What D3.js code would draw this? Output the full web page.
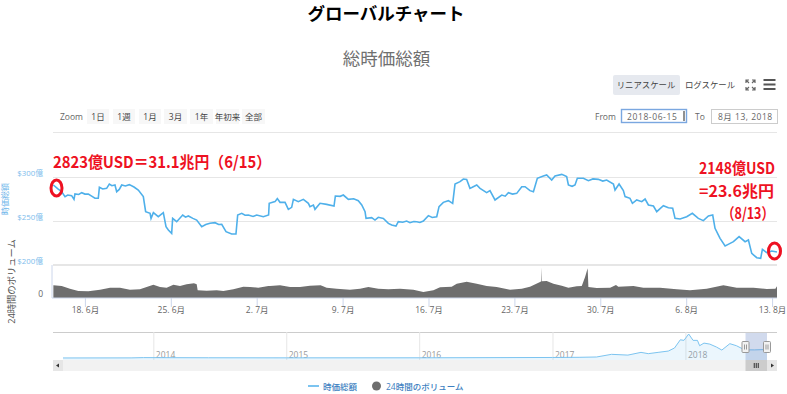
<!DOCTYPE html>
<html>
<head>
<meta charset="utf-8">
<script src="https://cdn.jsdelivr.net/npm/d3@7"></script>
<style>
    body { margin: 0; background: #fff; overflow: hidden; }
    text { font-family: "Open Sans", "Noto Sans CJK JP", sans-serif; }
    .axis path { display: none; }
    .axis text { font-family: "Open Sans", "Noto Sans CJK JP", sans-serif; }
</style>
</head>
<body>
<div id="chart"></div>
<script>
// days since 15 June 2018, market cap in 億 USD
const capDays = [
    0.43,0.8,1.11,1.38,1.6,1.92,2.11,2.19,2.5,2.74,
    3.0,3.28,3.55,3.82,4.09,4.18,4.45,4.77,4.99,5.2,
    5.45,5.59,5.8,6.0,6.3,6.62,7.0,7.35,7.76,7.95,
    8.31,8.39,8.58,8.98,9.39,9.61,9.8,10.07,10.15,10.48,
    10.97,11.2,11.43,11.8,12.11,12.52,12.85,13.19,13.6,13.9,
    14.15,14.5,14.96,15.31,15.45,15.78,16.05,16.32,16.7,17.0,
    17.54,17.97,18.02,18.49,18.68,18.9,19.31,19.58,19.85,19.99,
    20.39,20.8,21.21,21.34,21.62,21.75,22.16,22.7,23.3,23.41,
    23.8,24.06,24.47,24.9,25.28,25.56,25.83,25.91,26.37,26.64,
    26.91,27.32,27.73,28.0,28.35,28.54,28.9,29.22,29.49,29.8,
    30.04,30.3,30.58,30.99,31.3,31.67,31.86,32.21,32.62,32.97,
    33.16,33.57,33.84,34.11,34.38,34.65,34.93,35.2,35.74,36.01,
    36.42,36.97,37.25,37.51,37.85,38.19,38.6,38.87,39.27,39.55,
    39.87,40.36,40.63,41.04,41.31,41.86,42.26,42.4,42.7,42.94,
    43.13,43.62,44.03,44.4,44.84,45.2,45.52,46.07,46.2,46.53,
    46.88,47.02,47.42,47.62,47.97,48.38,48.65,48.92,49.33,49.6,
    50.14,50.55,50.9,51.09,51.5,52.04,52.5,52.99,53.4,53.81,
    54.16,54.35,54.76,55.17,55.5,55.85,56.31,56.8,57.07,57.34,
    57.75,58.07,58.21,58.56,58.97,59.4
];
const capValues = [
    290.9,286.5,283.3,277.7,279.5,278.8,274.6,280.7,280.2,282.2,
    280.6,280.7,278.2,275.8,275.8,288.3,286.4,287.1,292.0,290.1,
    290.9,283.3,285.9,290.9,289.8,291.3,288.6,285.2,277.7,260.6,
    258.7,253.0,259.5,254.9,259.5,243.6,239.8,236.0,253.0,249.2,
    256.8,254.4,255.7,253.0,251.1,243.6,245.9,247.4,248.1,246.0,
    246.2,237.9,235.2,235.2,256.8,258.7,256.5,256.8,255.2,256.8,
    254.9,256.8,270.1,272.0,275.4,271.2,271.2,263.2,265.5,274.6,
    272.0,274.6,270.1,266.3,268.2,263.2,270.1,268.9,267.0,278.4,
    278.0,279.5,274.6,275.2,273.1,268.2,260.6,253.0,253.8,251.1,
    254.2,253.0,247.3,245.4,244.3,249.2,248.6,250.0,248.1,249.5,
    249.2,248.4,250.0,256.1,254.0,254.9,266.3,271.2,273.1,270.1,
    292.0,294.7,297.7,297.3,287.1,289.0,290.9,287.1,282.2,284.5,
    273.9,279.5,278.2,282.2,280.6,281.4,289.0,289.0,284.5,283.3,
    298.5,301.1,302.3,296.6,301.1,303.0,300.4,290.9,289.4,290.9,
    298.5,298.5,295.8,297.8,297.3,295.4,296.6,292.0,285.2,292.0,
    284.5,277.7,275.8,270.1,273.9,272.0,275.0,268.2,267.0,260.6,
    267.4,265.1,264.4,253.0,252.3,254.9,258.7,253.0,250.4,255.7,
    256.8,241.7,230.3,221.6,224.0,226.5,232.2,226.5,228.4,213.2,
    208.3,207.6,217.8,214.0,215.9,214.8
];

// 24h volume in 億 USD
const volDays = [0.43,1.11,1.78,2.46,3.28,4.23,5.05,5.86,6.67,7.49,8.03,8.58,9.12,9.66,10.21,10.75,11.29,11.89,12.11,12.19,12.92,13.74,14.28,15.1,15.91,16.46,17.13,17.95,18.08,18.9,19.72,20.53,21.34,22.21,22.7,23.52,24.6,25.42,26.1,26.91,27.73,28.68,29.77,30.58,31.4,31.94,32.89,33.3,34.11,34.93,35.74,36.56,37.64,38.6,39.27,40.09,40.2,40.23,40.25,40.63,41.18,41.86,42.4,43.08,43.49,43.76,43.97,44.03,44.71,45.8,46.28,46.47,47.7,48.51,49.87,51.23,52.31,53.67,55.03,56.12,57.48,58.56,59.27,59.4];
const volValues = [154,145,113,85,81,101,125,125,101,105,133,162,133,125,162,145,166,178,166,93,89,93,85,105,137,133,125,145,145,154,133,133,149,154,125,113,101,113,133,113,105,113,101,73,93,129,137,174,198,174,145,133,101,113,137,194,202,372,202,206,174,149,125,141,145,255,360,133,121,125,158,137,145,125,125,105,93,113,154,125,125,109,113,141];

// navigator, whole history
const navDates = ["2013-04-28","2013-11-01","2013-12-05","2014-06-01","2015-01-01","2016-01-01","2017-01-01","2017-03-15","2017-05-02","2017-06-12","2017-07-27","2017-09-01","2017-09-21","2017-10-18","2017-11-15","2017-12-02","2017-12-18","2017-12-28","2018-01-10","2018-01-22","2018-02-03","2018-02-09","2018-02-21","2018-03-09","2018-03-27","2018-04-11","2018-05-03","2018-05-21","2018-06-08","2018-06-15","2018-07-09","2018-08-02","2018-08-13"];
const navValues = [15,40,130,80,50,70,180,240,350,1265,1000,1950,1500,1950,2400,3450,6300,6100,8300,6100,6100,4250,5150,4800,3800,2750,4950,4250,3100,2823,2800,2900,2148];
const navYears = ["2014","2015","2016","2017","2018"];

const capTicks = [200, 250, 300];
const capTickLabels = ["$200億", "$250億", "$300億"];
const dayTicks = [3, 10, 17, 24, 31, 38, 45, 52, 59];
const dayTickLabels = ["18. 6月", "25. 6月", "2. 7月", "9. 7月", "16. 7月", "23. 7月", "30. 7月", "6. 8月", "13. 8月"];
const rangeButtons = ["1日", "1週", "1月", "3月", "1年", "年初来", "全部"];
const rangeButtonX = [87, 113, 139, 164, 190, 216, 242];
const rangeButtonW = [22, 22, 22, 23, 23, 23, 23];

const svg = d3.select('#chart').append('svg')
    .attr('width', 787)
    .attr('height', 394);

const gray = '#666666';
const blue = '#4fb0ea';
const red = '#ee1122';

// titles
svg.append('text').attr('x', 386).attr('y', 20).attr('text-anchor', 'middle')
    .attr('font-size', 17.5).attr('font-weight', 700).attr('fill', '#000')
    .style('font-family', '"Noto Sans CJK JP"').text('グローバルチャート');
svg.append('text').attr('x', 386.5).attr('y', 65).attr('text-anchor', 'middle')
    .attr('font-size', 17.5).attr('fill', '#707070')
    .style('font-family', '"Noto Sans CJK JP"').text('総時価総額');

// scale buttons
svg.append('rect').attr('x', 613).attr('y', 75).attr('width', 67).attr('height', 20).attr('rx', 2).attr('fill', '#e6e9ef');
svg.append('text').attr('x', 646).attr('y', 88).attr('text-anchor', 'middle').attr('font-size', 8.4).attr('fill', '#444').text('リニアスケール');
svg.append('text').attr('x', 710).attr('y', 88).attr('text-anchor', 'middle').attr('font-size', 8.4).attr('fill', '#444').text('ログスケール');

// fullscreen icon, drawn as four corners
[[746, 80, 1, 1], [755, 80, -1, 1], [746, 90, 1, -1], [755, 90, -1, -1]].forEach(c => {
    svg.append('path')
        .attr('d', `M${c[0]},${c[1] + 3 * c[3]}V${c[1]}H${c[0] + 3 * c[2]}M${c[0]},${c[1]}l${3 * c[2]},${3 * c[3]}`)
        .attr('fill', 'none').attr('stroke', '#666').attr('stroke-width', 1.2);
});
// menu icon
[80, 84.5, 89].forEach(y => {
    svg.append('rect').attr('x', 763.5).attr('y', y - 1).attr('width', 12).attr('height', 2).attr('fill', '#555');
});

// range selector
svg.append('text').attr('x', 60).attr('y', 119.5).attr('font-size', 8.5).attr('fill', gray).text('Zoom');
rangeButtons.forEach((label, i) => {
    svg.append('rect').attr('x', rangeButtonX[i]).attr('y', 109).attr('width', rangeButtonW[i]).attr('height', 15).attr('fill', '#f7f7f7');
    svg.append('text').attr('x', rangeButtonX[i] + rangeButtonW[i] / 2).attr('y', 119.5).attr('text-anchor', 'middle')
        .attr('font-size', 8.5).attr('fill', '#444').text(label);
});

// date inputs
svg.append('text').attr('x', 595).attr('y', 119.5).attr('font-size', 8.5).attr('fill', gray).text('From');
svg.append('rect').attr('x', 621.5).attr('y', 109.5).attr('width', 65).attr('height', 13).attr('fill', '#fff').attr('stroke', '#7aa7e0').attr('stroke-width', 1.4);
svg.append('text').attr('x', 627).attr('y', 119.5).attr('font-size', 8.5).attr('letter-spacing', 0.6).attr('fill', gray).text('2018-06-15');
svg.append('line').attr('x1', 684).attr('x2', 684).attr('y1', 111).attr('y2', 121).attr('stroke', '#222');
svg.append('text').attr('x', 695).attr('y', 119.5).attr('font-size', 8.5).attr('fill', gray).text('To');
svg.append('rect').attr('x', 711.5).attr('y', 109.5).attr('width', 66).attr('height', 14).attr('fill', '#fff').attr('stroke', '#ccc');
svg.append('text').attr('x', 718).attr('y', 119.5).attr('font-size', 8.5).attr('letter-spacing', 0.5).attr('fill', gray).text('8月 13, 2018');
svg.append('line').attr('x1', 53).attr('x2', 777).attr('y1', 132.5).attr('y2', 132.5).attr('stroke', '#e6e6e6');

// main panes
const xScale = d3.scaleLinear().domain([0.4, 59.4]).range([53, 777]);
const yScale = d3.scaleLinear().domain([200, 300]).range([265, 177]);
const volScale = d3.scaleLinear().domain([0, 400]).range([298, 265]);

const capGrid = d3.axisLeft(yScale).tickValues(capTicks.slice(1)).tickSize(-724).tickFormat('');
svg.append('g').attr('class', 'axis').attr('transform', 'translate(53,0)').call(capGrid)
    .selectAll('line').attr('stroke', '#e6e6e6');

const capAxis = d3.axisLeft(yScale).tickValues(capTicks).tickSize(0).tickPadding(10)
    .tickFormat((d, i) => capTickLabels[i]);
const capAxisG = svg.append('g').attr('class', 'axis').attr('transform', 'translate(53,-4)').call(capAxis);
capAxisG.selectAll('text').attr('font-size', 7.8).attr('fill', '#7cbcec');

svg.append('text').attr('transform', 'translate(8,199) rotate(-90)').attr('text-anchor', 'middle')
    .attr('font-size', 8).attr('fill', '#6fb6ea').text('時価総額');
svg.append('text').attr('transform', 'translate(15,281.5) rotate(-90)').attr('text-anchor', 'middle')
    .attr('font-size', 9.3).attr('fill', '#555').text('24時間のボリューム');

// volume
const volArea = d3.area()
    .x((d, i) => xScale(volDays[i]))
    .y0(volScale(0))
    .y1(d => volScale(d));
svg.append('path').datum(volValues).attr('d', volArea).attr('fill', '#6e6e6e');

svg.append('rect').attr('x', 53).attr('y', 264).attr('width', 724).attr('height', 2).attr('fill', '#e6e6e6');
svg.append('line').attr('x1', 52).attr('x2', 52).attr('y1', 265).attr('y2', 298).attr('stroke', '#ccd6eb');
svg.append('line').attr('x1', 52).attr('x2', 777).attr('y1', 298).attr('y2', 298).attr('stroke', '#ccd6eb');

const volAxis = d3.axisLeft(volScale).tickValues([0]).tickSize(0).tickPadding(10);
const volAxisG = svg.append('g').attr('class', 'axis').attr('transform', 'translate(53,-4)').call(volAxis);
volAxisG.selectAll('text').attr('font-size', 8.5).attr('fill', gray);

// market cap line
const capLine = d3.line()
    .x((d, i) => xScale(capDays[i]))
    .y(d => yScale(d));
svg.append('path').datum(capValues).attr('d', capLine)
    .attr('fill', 'none').attr('stroke', blue).attr('stroke-width', 1.6);

const xAxis = d3.axisBottom(xScale).tickValues(dayTicks).tickSize(9).tickPadding(0)
    .tickFormat((d, i) => dayTickLabels[i]);
const xAxisG = svg.append('g').attr('class', 'axis').attr('transform', 'translate(0,298)').call(xAxis);
xAxisG.selectAll('line').attr('stroke', '#ccd6eb');
xAxisG.selectAll('text').attr('font-size', 8.5).attr('fill', gray);

// navigator
const parseDay = d3.utcParse('%Y-%m-%d');
const navX = d3.scaleUtc().domain([parseDay('2013-04-28'), parseDay('2018-08-13')]).range([63, 767]);
const navY = d3.scaleLinear().domain([0, 8300]).range([358, 334]);

svg.append('line').attr('x1', 53).attr('x2', 777).attr('y1', 332.5).attr('y2', 332.5).attr('stroke', '#cccccc');
const navAxis = d3.axisBottom(navX).tickValues(navYears.map(y => parseDay(y + '-01-01'))).tickSize(-28)
    .tickFormat(d3.utcFormat('%Y')).tickPadding(0);
const navAxisG = svg.append('g').attr('class', 'axis').attr('transform', 'translate(0,360)').call(navAxis);
navAxisG.selectAll('line').attr('stroke', '#e6e6e6');
navAxisG.selectAll('text').attr('font-size', 8.5).attr('fill', '#999').attr('text-anchor', 'start')
    .attr('x', 2).attr('y', -2).attr('dy', 0);

const navArea = d3.area()
    .x((d, i) => navX(parseDay(navDates[i])))
    .y0(360)
    .y1(d => navY(d));
svg.append('path').datum(navValues).attr('d', navArea).attr('fill', '#7cc4f0').attr('fill-opacity', 0.15);
const navLine = d3.line()
    .x((d, i) => navX(parseDay(navDates[i])))
    .y(d => navY(d));
svg.append('path').datum(navValues).attr('d', navLine).attr('fill', 'none').attr('stroke', '#7cc4f0').attr('stroke-width', 1);

// selected range
const maskX0 = navX(parseDay('2018-06-15'));
const maskX1 = navX(parseDay('2018-08-13'));
svg.append('rect').attr('x', maskX0).attr('y', 333).attr('width', maskX1 - maskX0).attr('height', 27).attr('fill', '#6685c2').attr('fill-opacity', 0.3);
[maskX0, maskX1].forEach(x => {
    svg.append('rect').attr('x', x - 3.5).attr('y', 341.5).attr('width', 7).attr('height', 11).attr('rx', 1).attr('fill', '#f2f2f2').attr('stroke', '#999');
    svg.append('path').attr('d', `M${x - 1},344.5V349.5M${x + 1},344.5V349.5`).attr('stroke', '#999');
});

// scrollbar
svg.append('rect').attr('x', 53).attr('y', 360).attr('width', 724).attr('height', 11).attr('fill', '#f2f2f2');
svg.append('rect').attr('x', 53).attr('y', 360).attr('width', 10).attr('height', 11).attr('fill', '#e6e6e6');
svg.append('rect').attr('x', 767).attr('y', 360).attr('width', 10).attr('height', 11).attr('fill', '#e6e6e6');
svg.append('rect').attr('x', maskX0).attr('y', 360).attr('width', maskX1 - maskX0).attr('height', 11).attr('fill', '#cccccc');
svg.append('path').attr('d', 'M59,363.5l-3,2l3,2z').attr('fill', '#333');
svg.append('path').attr('d', 'M771,363.5l3,2l-3,2z').attr('fill', '#333');
svg.append('path').attr('d', `M${(maskX0 + maskX1) / 2 - 2},363V368M${(maskX0 + maskX1) / 2},363V368M${(maskX0 + maskX1) / 2 + 2},363V368`).attr('stroke', '#333');

// legend
svg.append('line').attr('x1', 308).attr('x2', 319).attr('y1', 386).attr('y2', 386).attr('stroke', '#7cc4f0').attr('stroke-width', 2);
svg.append('text').attr('x', 323).attr('y', 390).attr('font-size', 8.5).attr('font-weight', 500).attr('fill', '#3d7fc1').text('時価総額');
svg.append('circle').attr('cx', 376.5).attr('cy', 386).attr('r', 4.5).attr('fill', '#6e6e6e');
svg.append('text').attr('x', 386).attr('y', 390).attr('font-size', 8.5).attr('font-weight', 500).attr('fill', '#3d7fc1').text('24時間のボリューム');

// red hand written notes
const notes = [
    {text: '2823億USD＝31.1兆円（6/15）', x: 53, y: 168, w: 218, size: 16},
    {text: '2148億USD', x: 699, y: 174, w: 76, size: 15.5},
    {text: '=23.6兆円', x: 699, y: 197, w: 75, size: 15.5},
    {text: '（8/13）', x: 722, y: 219, w: 52, size: 15.5}
];
notes.forEach(n => {
    svg.append('text').attr('x', n.x).attr('y', n.y)
        .attr('textLength', n.w).attr('lengthAdjust', 'spacingAndGlyphs')
        .attr('font-size', n.size).attr('font-weight', 700).attr('fill', red)
        .style('font-family', '"Noto Sans CJK JP"').text(n.text);
});
svg.append('ellipse').attr('cx', 56.5).attr('cy', 188).attr('rx', 5.5).attr('ry', 8).attr('fill', 'none').attr('stroke', red).attr('stroke-width', 3);
svg.append('ellipse').attr('cx', 774.5).attr('cy', 251).attr('rx', 6).attr('ry', 8).attr('fill', 'none').attr('stroke', red).attr('stroke-width', 3);
</script>
</body>
</html>
